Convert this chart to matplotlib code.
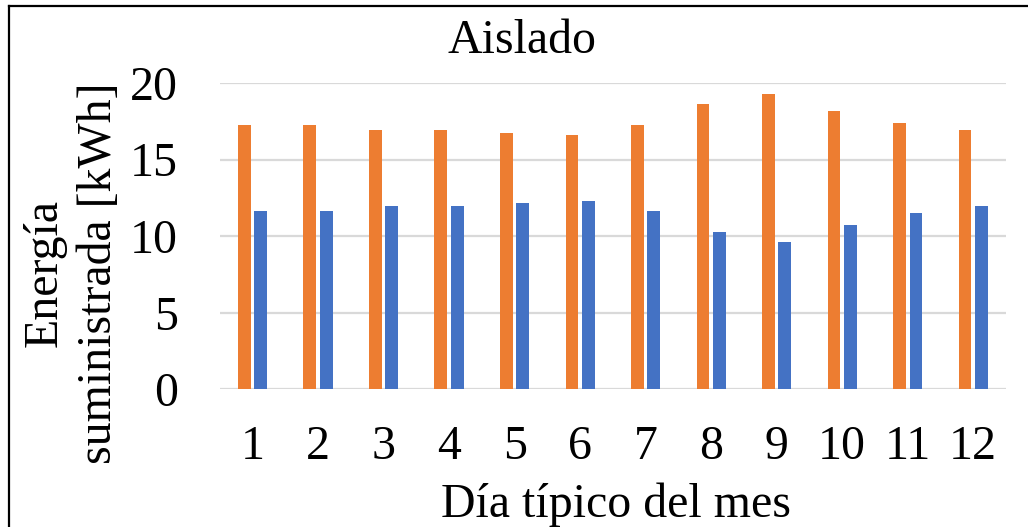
import matplotlib
matplotlib.use("Agg")
import matplotlib.pyplot as plt
import numpy as np
from matplotlib.lines import Line2D

categories = ["1", "2", "3", "4", "5", "6", "7", "8", "9", "10", "11", "12"]
serie_naranja = [17.24, 17.28, 16.91, 16.96, 16.76, 16.59, 17.28, 18.61, 19.26, 18.15, 17.41, 16.96]
serie_azul = [11.63, 11.61, 11.96, 11.96, 12.13, 12.28, 11.61, 10.26, 9.63, 10.74, 11.48, 11.93]
yticks = [0, 5, 10, 15, 20]

plt.rcParams['font.family'] = ['Liberation Serif', 'DejaVu Serif']
FS = 34.5

W, H = 1028, 527
fig = plt.figure(figsize=(W / 100, H / 100), dpi=100)
ax = fig.add_axes([219.7 / W, 1 - 389 / H, (1006 - 219.7) / W, (389 - 83) / H])

x = np.arange(len(categories))
bw = 0.194
off = 0.125
ax.bar(x - off, serie_naranja, width=bw, color='#ED7D31', zorder=3)
ax.bar(x + off, serie_azul, width=bw, color='#4472C4', zorder=3)

ax.set_xlim(-0.5, len(categories) - 0.5)
ax.set_ylim(0, 20)
ax.set_yticks(yticks)
ax.set_yticklabels([str(v) for v in yticks])
ax.set_xticks(x)
ax.set_xticklabels(categories)
ax.tick_params(axis='both', length=0, labelsize=FS, colors='black')
ax.tick_params(axis='y', pad=30)
ax.tick_params(axis='x', pad=26)
ax.grid(axis='y', color='#d9d9d9', linewidth=1.6, zorder=0)
for s in ax.spines.values():
    s.set_visible(False)

fig.text(522 / W, 1 - 53 / H, "Aislado", ha='center', va='baseline', fontsize=FS)
fig.text(616 / W, 1 - 517 / H, "Día típico del mes", ha='center', va='baseline', fontsize=FS)
fig.text(72 / W, 1 - 273 / H, "Energía\nsuministrada [kWh]", ha='center', va='center',
         rotation=90, fontsize=FS, linespacing=1.3, multialignment='center')

# chart border (left and top visible)
fig.add_artist(Line2D([8.5 / W, 8.5 / W], [0, 1 - 5.5 / H], transform=fig.transFigure,
                      color='black', linewidth=1.6))
fig.add_artist(Line2D([8.5 / W, 1], [1 - 5.5 / H, 1 - 5.5 / H], transform=fig.transFigure,
                      color='black', linewidth=1.6))

fig.savefig("out.png", dpi=100)
